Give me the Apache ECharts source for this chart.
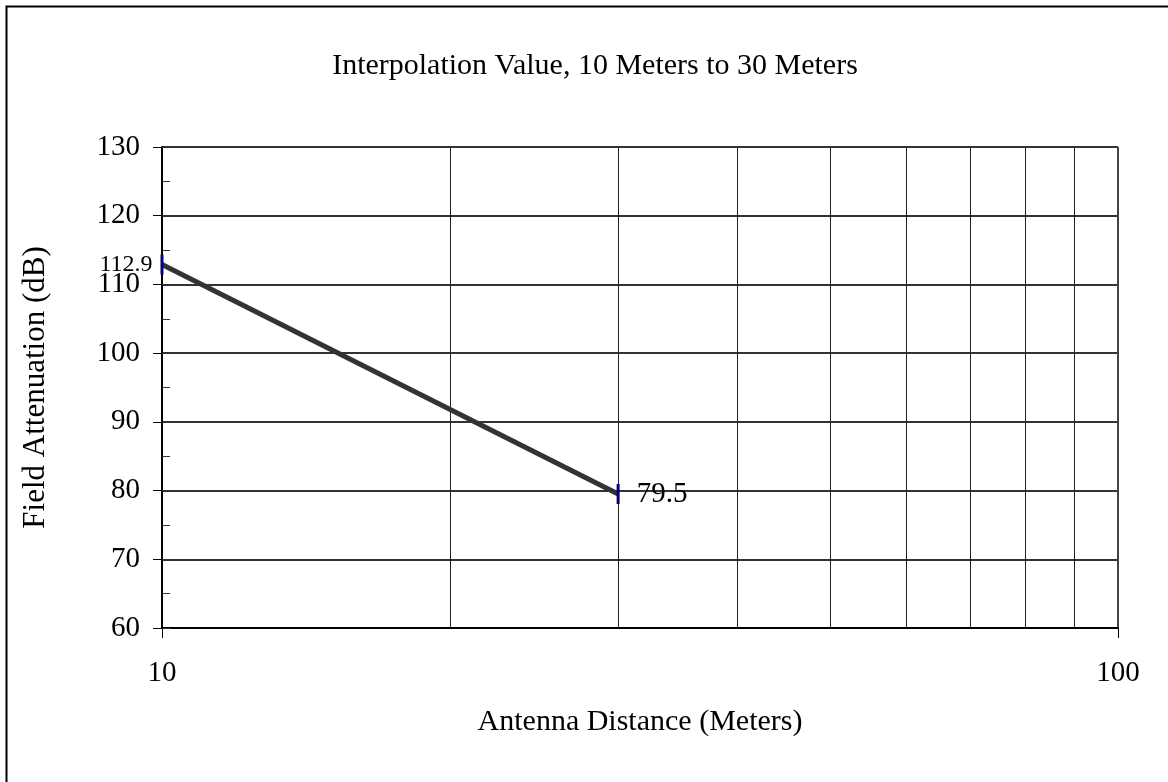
<!DOCTYPE html>
<html>
<head>
<meta charset="utf-8">
<script src="https://cdn.jsdelivr.net/npm/echarts@6/dist/echarts.min.js"></script>
<style>
html,body{margin:0;padding:0;background:#fff;}
#chart{width:1168px;height:782px;}
</style>
</head>
<body>
<div id="chart"></div>
<script>
const chartTitle = 'Interpolation Value, 10 Meters to 30 Meters';
const xAxisName = 'Antenna Distance (Meters)';
const yAxisName = 'Field Attenuation (dB)';
const distances = [10, 30];
const attenuation = [112.9, 79.5];
const xGridValues = [20, 30, 40, 50, 60, 70, 80, 90];
const yMin = 60, yMax = 130, yStep = 10, yMinorStep = 5;
const xMin = 10, xMax = 100;

const FONT = "'Liberation Serif', 'Times New Roman', serif";
const labelStyles = [
  { show: true, position: 'left', distance: 8, fontSize: 24, color: '#000', fontFamily: FONT },
  { show: true, position: 'right', distance: 17, fontSize: 29, color: '#000', fontFamily: FONT }
];

const chart = echarts.init(document.getElementById('chart'), null, { renderer: 'canvas' });
const option = {
  backgroundColor: '#fff',
  animation: false,
  title: {
    text: chartTitle,
    left: 590, top: 46, textAlign: 'center',
    textStyle: { fontFamily: FONT, fontSize: 30, fontWeight: 'normal', color: '#000' }
  },
  graphic: [{
    type: 'rect', shape: { x: 6.5, y: 6.5, width: 1200, height: 800 },
    style: { fill: null, stroke: '#000', lineWidth: 2 }, silent: true, z: -1
  }],
  grid: { left: 162, right: 50, top: 147, bottom: 154, containLabel: false },
  xAxis: {
    type: 'log', logBase: 10, min: xMin, max: xMax,
    name: xAxisName, nameLocation: 'middle', nameGap: 79,
    nameTextStyle: { fontFamily: FONT, fontSize: 30, color: '#000' },
    axisLine: { show: true, onZero: false, lineStyle: { color: '#000', width: 2 } },
    axisTick: { show: true, length: 10, lineStyle: { color: '#000', width: 1 } },
    axisLabel: { fontFamily: FONT, fontSize: 29, color: '#000', margin: 31 },
    splitLine: { show: true, lineStyle: { color: '#444', width: 2 } }
  },
  yAxis: [{
    type: 'value', min: yMin, max: yMax, interval: yStep,
    name: yAxisName, nameLocation: 'middle', nameGap: 111, nameRotate: 90,
    nameTextStyle: { fontFamily: FONT, fontSize: 31, color: '#000' },
    axisLine: { show: true, lineStyle: { color: '#000', width: 2 } },
    axisTick: { show: true, length: 9, lineStyle: { color: '#000', width: 1 } },
    axisLabel: { fontFamily: FONT, fontSize: 29, color: '#000', margin: 22 },
    splitLine: { show: true, lineStyle: { color: '#333', width: 2 } }
  }, {
    type: 'value', min: yMin, max: yMax, interval: yMinorStep, position: 'left',
    axisLine: { show: false },
    axisTick: { show: true, inside: true, length: 8, lineStyle: { color: '#333', width: 1 } },
    axisLabel: { show: false },
    splitLine: { show: false }
  }],
  series: [{
    type: 'line', data: [], z: 1, silent: true,
    markLine: {
      silent: true, symbol: 'none', label: { show: false },
      lineStyle: { color: '#222', width: 1, type: 'solid' },
      data: xGridValues.map(v => ({ xAxis: v }))
    }
  }, {
    type: 'line', z: 5, clip: false,
    data: distances.map((d, i) => ({ value: [d, attenuation[i]], label: labelStyles[i] })),
    lineStyle: { color: '#333', width: 5 },
    symbol: 'rect', symbolSize: [3, 20],
    itemStyle: { color: '#000080' },
    label: { show: true, formatter: p => p.value[1].toFixed(1) }
  }]
};
chart.setOption(option);
</script>
</body>
</html>
